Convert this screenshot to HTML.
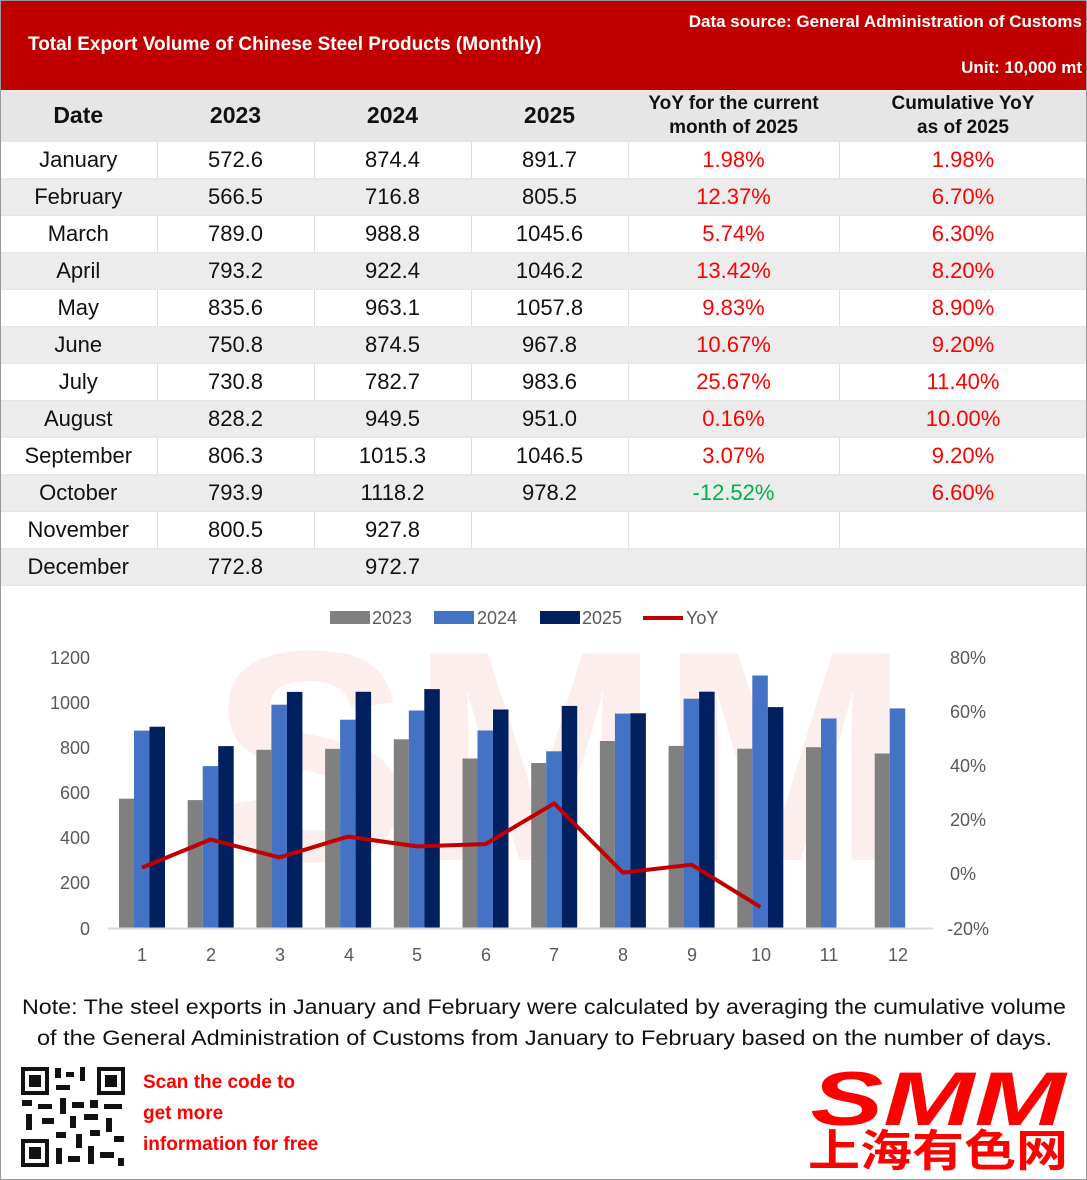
<!DOCTYPE html>
<html><head><meta charset="utf-8">
<style>
body{margin:0;width:1087px;height:1180px;background:#fff;overflow:hidden;font-family:"Liberation Sans","Noto Sans CJK SC",sans-serif;position:relative}
.hdr{position:absolute;left:0;top:0;width:1087px;height:90px;background:#C00000;color:#fff;font-weight:bold}
table{position:absolute;left:0;top:90px;border-collapse:collapse;table-layout:fixed;width:1087px}
td{height:36px;padding:0;text-align:center;font-size:22px;color:#111;border-right:1px solid #ddd;border-bottom:1px solid #e6e6e6;box-sizing:content-box}
tr.g td{background:#ececec;border-right-color:#ececec}
tr.h td{height:51px;background:#e6e6e6;font-weight:bold;border-right-color:#e6e6e6}
.r{color:#f00}.gr{color:#00b050}
</style></head><body>
<div class="hdr">
<div style="position:absolute;left:28px;top:34px;font-size:19px">Total Export Volume of Chinese Steel Products (Monthly)</div>
<div style="position:absolute;right:5px;top:12px;font-size:17px">Data source: General Administration of Customs</div>
<div style="position:absolute;right:5px;top:58px;font-size:17px">Unit: 10,000 mt</div>
</div>
<table>
<colgroup><col style="width:157px"><col style="width:157px"><col style="width:157px"><col style="width:157px"><col style="width:211px"><col style="width:248px"></colgroup>
<tr class="h"><td style="font-size:23px">Date</td><td style="font-size:23px">2023</td><td style="font-size:23px">2024</td><td style="font-size:23px">2025</td><td style="font-size:19px;line-height:24px">YoY for the current<br>month of 2025</td><td style="font-size:19px;line-height:24px">Cumulative YoY<br>as of 2025</td></tr>
<tr><td>January</td><td>572.6</td><td>874.4</td><td>891.7</td><td class="r">1.98%</td><td class="r">1.98%</td></tr>
<tr class="g"><td>February</td><td>566.5</td><td>716.8</td><td>805.5</td><td class="r">12.37%</td><td class="r">6.70%</td></tr>
<tr><td>March</td><td>789.0</td><td>988.8</td><td>1045.6</td><td class="r">5.74%</td><td class="r">6.30%</td></tr>
<tr class="g"><td>April</td><td>793.2</td><td>922.4</td><td>1046.2</td><td class="r">13.42%</td><td class="r">8.20%</td></tr>
<tr><td>May</td><td>835.6</td><td>963.1</td><td>1057.8</td><td class="r">9.83%</td><td class="r">8.90%</td></tr>
<tr class="g"><td>June</td><td>750.8</td><td>874.5</td><td>967.8</td><td class="r">10.67%</td><td class="r">9.20%</td></tr>
<tr><td>July</td><td>730.8</td><td>782.7</td><td>983.6</td><td class="r">25.67%</td><td class="r">11.40%</td></tr>
<tr class="g"><td>August</td><td>828.2</td><td>949.5</td><td>951.0</td><td class="r">0.16%</td><td class="r">10.00%</td></tr>
<tr><td>September</td><td>806.3</td><td>1015.3</td><td>1046.5</td><td class="r">3.07%</td><td class="r">9.20%</td></tr>
<tr class="g"><td>October</td><td>793.9</td><td>1118.2</td><td>978.2</td><td class="gr">-12.52%</td><td class="r">6.60%</td></tr>
<tr><td>November</td><td>800.5</td><td>927.8</td><td></td><td></td><td></td></tr>
<tr class="g"><td>December</td><td>772.8</td><td>972.7</td><td></td><td></td><td></td></tr>
</table>
<svg style="position:absolute;left:0;top:0" width="1087" height="1180" font-family="Liberation Sans, sans-serif">
<text x="210" y="860" font-size="300" font-weight="bold" fill="#fdeeee">SMM</text>
<g font-size="18" fill="#595959">
<rect x="330" y="611" width="40" height="13" fill="#808080"/><text x="372" y="624">2023</text>
<rect x="434" y="611" width="40" height="13" fill="#4472C4"/><text x="477" y="624">2024</text>
<rect x="540" y="611" width="40" height="13" fill="#002060"/><text x="582" y="624">2025</text>
<line x1="643" y1="618" x2="683" y2="618" stroke="#C00000" stroke-width="4"/><text x="686" y="624">YoY</text>
<g text-anchor="end">
<text x="90" y="664">1200</text><text x="90" y="709">1000</text><text x="90" y="754">800</text><text x="90" y="799">600</text><text x="90" y="844">400</text><text x="90" y="889">200</text><text x="90" y="935">0</text>
</g>
<text x="950" y="664">80%</text><text x="950" y="718">60%</text><text x="950" y="772">40%</text><text x="950" y="826">20%</text><text x="950" y="880">0%</text><text x="947" y="935">-20%</text>
<g text-anchor="middle">
<text x="142" y="961">1</text><text x="211" y="961">2</text><text x="280" y="961">3</text><text x="349" y="961">4</text><text x="417" y="961">5</text><text x="486" y="961">6</text><text x="554" y="961">7</text><text x="623" y="961">8</text><text x="692" y="961">9</text><text x="761" y="961">10</text><text x="829" y="961">11</text><text x="898" y="961">12</text>
</g></g>
<g transform="translate(0,928) scale(1,-1)">
<g fill="#808080">
<rect x="119" width="15" height="129.3"/><rect x="187.7" width="15" height="127.9"/><rect x="256.4" width="15" height="178.2"/><rect x="325.1" width="15" height="179.1"/><rect x="393.8" width="15" height="188.7"/><rect x="462.5" width="15" height="169.5"/><rect x="531.2" width="15" height="165"/><rect x="599.9" width="15" height="187"/><rect x="668.6" width="15" height="182.1"/><rect x="737.3" width="15" height="179.3"/><rect x="806" width="15" height="180.8"/><rect x="874.7" width="15" height="174.5"/>
</g>
<g fill="#4472C4">
<rect x="134" width="15.5" height="197.4"/><rect x="202.7" width="15.5" height="161.9"/><rect x="271.4" width="15.5" height="223.3"/><rect x="340.1" width="15.5" height="208.3"/><rect x="408.8" width="15.5" height="217.5"/><rect x="477.5" width="15.5" height="197.5"/><rect x="546.2" width="15.5" height="176.7"/><rect x="614.9" width="15.5" height="214.4"/><rect x="683.6" width="15.5" height="229.3"/><rect x="752.3" width="15.5" height="252.5"/><rect x="821" width="15.5" height="209.5"/><rect x="889.7" width="15.5" height="219.6"/>
</g>
<g fill="#002060">
<rect x="149.5" width="15.5" height="201.3"/><rect x="218.2" width="15.5" height="181.9"/><rect x="286.9" width="15.5" height="236.1"/><rect x="355.6" width="15.5" height="236.2"/><rect x="424.3" width="15.5" height="238.9"/><rect x="493" width="15.5" height="218.5"/><rect x="561.7" width="15.5" height="222.1"/><rect x="630.4" width="15.5" height="214.7"/><rect x="699.1" width="15.5" height="236.3"/><rect x="767.8" width="15.5" height="220.9"/>
</g></g>
<line x1="108" y1="928.5" x2="933" y2="928.5" stroke="#d9d9d9" stroke-width="2"/>
<polyline points="142,867.6 210.7,839.5 279.4,857.4 348.1,836.6 416.8,846.4 485.5,844.1 554.2,803.4 622.9,872.6 691.6,864.7 760.3,906.9" fill="none" stroke="#C00000" stroke-width="4" stroke-linejoin="round"/>
<g font-size="21" fill="#111">
<text x="22" y="1014" textLength="1044" lengthAdjust="spacingAndGlyphs">Note: The steel exports in January and February were calculated by averaging the cumulative volume</text>
<text x="37" y="1045" textLength="1015" lengthAdjust="spacingAndGlyphs">of the General Administration of Customs from January to February based on the number of days.</text>
</g>
<g fill="#f00" font-size="19" font-weight="bold">
<text x="143" y="1088">Scan the code to</text><text x="143" y="1119">get more</text><text x="143" y="1150">information for free</text>
</g>
<g fill="#111">
<rect x="21" y="1067" width="104" height="100" fill="#fff"/>
<rect x="21" y="1067" width="28" height="28"/><rect x="25" y="1071" width="20" height="20" fill="#fff"/><rect x="29" y="1075" width="12" height="12"/>
<rect x="97" y="1067" width="28" height="28"/><rect x="101" y="1071" width="20" height="20" fill="#fff"/><rect x="105" y="1075" width="12" height="12"/>
<rect x="21" y="1139" width="28" height="28"/><rect x="25" y="1143" width="20" height="20" fill="#fff"/><rect x="29" y="1147" width="12" height="12"/>
<rect x="55" y="1068" width="6" height="10"/><rect x="66" y="1072" width="8" height="5"/><rect x="80" y="1067" width="5" height="14"/><rect x="56" y="1085" width="14" height="5"/>
<rect x="22" y="1100" width="10" height="6"/><rect x="38" y="1104" width="14" height="5"/><rect x="60" y="1098" width="6" height="16"/><rect x="72" y="1102" width="12" height="6"/><rect x="90" y="1100" width="8" height="8"/><rect x="104" y="1104" width="18" height="5"/>
<rect x="26" y="1114" width="6" height="16"/><rect x="42" y="1118" width="12" height="6"/><rect x="70" y="1116" width="6" height="12"/><rect x="84" y="1114" width="14" height="6"/><rect x="106" y="1118" width="6" height="14"/>
<rect x="56" y="1132" width="10" height="6"/><rect x="76" y="1134" width="6" height="14"/><rect x="90" y="1130" width="10" height="6"/><rect x="114" y="1136" width="10" height="6"/>
<rect x="56" y="1148" width="6" height="16"/><rect x="68" y="1156" width="12" height="6"/><rect x="88" y="1146" width="6" height="18"/><rect x="100" y="1152" width="14" height="6"/><rect x="118" y="1158" width="6" height="8"/>
</g>
<text x="938" y="1125" font-size="76" font-weight="bold" font-style="italic" fill="#f00" text-anchor="middle" textLength="255" lengthAdjust="spacingAndGlyphs">SMM</text>
<text x="938" y="1166" font-size="44" font-weight="bold" fill="#f00" text-anchor="middle" font-family="Noto Sans CJK SC, sans-serif" textLength="260" lengthAdjust="spacingAndGlyphs">上海有色网</text>
<rect x="0.5" y="0.5" width="1086" height="1179" fill="none" stroke="#999"/>
</svg>
</body></html>
